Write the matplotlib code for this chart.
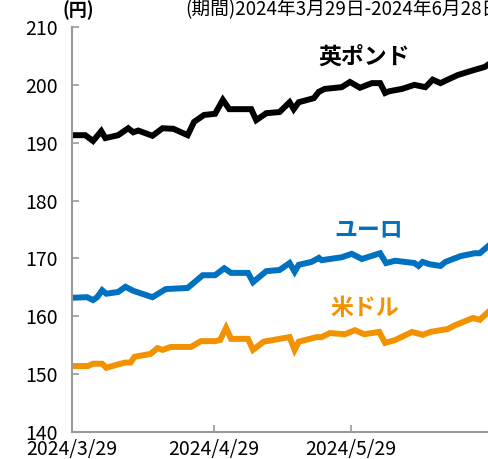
import pandas as pd
import matplotlib
matplotlib.use("Agg")
import matplotlib.pyplot as plt

plt.rcParams['font.family'] = ['Noto Sans CJK JP', 'DejaVu Sans']

# データ（2024/3/29 からの経過日数と円換算値）
start = pd.Timestamp("2024-03-29")
end = pd.Timestamp("2024-06-28")

gbp_days = [0, 2.9, 4.6, 6.4, 7.3, 10.1, 12.3, 13.4, 14.5, 17.6, 19.8, 22.2, 25.3, 26.7, 28.9,
            31.3, 33.0, 34.4, 39.2, 40.3, 42.5, 45.4, 47.6, 48.5, 49.6, 52.9, 54.0, 55.3, 59.0,
            60.8, 63.0, 65.6, 67.4, 68.5, 69.4, 72.2, 74.9, 77.3, 78.9, 80.6, 82.2, 84.4, 88.1,
            90.3, 91.6]
gbp = [191.3, 191.3, 190.3, 192.0, 190.8, 191.3, 192.5, 191.8, 192.1, 191.2, 192.5, 192.4,
       191.3, 193.6, 194.8, 195.0, 197.4, 195.8, 195.8, 193.9, 195.1, 195.3, 197.0, 195.8,
       197.0, 197.7, 198.8, 199.3, 199.6, 200.5, 199.5, 200.3, 200.3, 198.6, 198.9, 199.3,
       200.0, 199.6, 200.9, 200.3, 200.9, 201.7, 202.6, 203.1, 203.8]

eur_days = [0, 3.3, 4.6, 5.5, 6.6, 7.5, 10.1, 11.7, 13.4, 17.6, 20.5, 25.3, 28.6, 31.3, 33.3,
            34.8, 38.5, 39.6, 42.5, 45.4, 47.6, 48.7, 49.6, 52.4, 54.0, 54.6, 59.0, 61.2, 63.4,
            67.4, 68.7, 70.7, 74.9, 75.8, 76.7, 78.2, 80.6, 81.7, 85.0, 88.1, 89.2, 91.0, 91.6]
eur = [163.2, 163.3, 162.8, 163.3, 164.5, 163.9, 164.2, 165.1, 164.4, 163.3, 164.7, 164.9,
       167.1, 167.1, 168.3, 167.5, 167.5, 165.9, 167.8, 168.0, 169.2, 167.7, 168.9, 169.4,
       170.1, 169.7, 170.2, 170.8, 169.9, 170.9, 169.2, 169.6, 169.2, 168.7, 169.4, 169.0,
       168.7, 169.4, 170.4, 170.9, 170.9, 172.1, 172.5]

usd_days = [0, 3.5, 4.6, 6.6, 7.5, 10.6, 11.7, 12.8, 13.7, 17.2, 18.7, 19.8, 21.6, 26.0, 28.2,
            31.3, 32.4, 33.7, 34.8, 38.5, 39.6, 41.9, 45.4, 47.6, 48.7, 49.6, 52.0, 53.5, 54.6,
            56.4, 59.7, 61.9, 63.9, 67.2, 68.5, 70.7, 74.4, 76.7, 78.4, 82.2, 83.9, 85.5, 87.7,
            89.2, 91.0, 91.6]
usd = [151.4, 151.4, 151.8, 151.8, 151.1, 151.8, 152.0, 152.0, 153.0, 153.5, 154.5, 154.2,
       154.7, 154.7, 155.7, 155.7, 155.9, 158.0, 156.1, 156.1, 154.2, 155.6, 156.1, 156.4,
       154.2, 155.6, 156.1, 156.4, 156.4, 157.1, 156.9, 157.6, 156.9, 157.3, 155.4, 155.9,
       157.3, 156.8, 157.3, 157.8, 158.5, 159.0, 159.7, 159.4, 160.7, 161.1]

x_ticklabels = ["2024/3/29", "2024/4/29", "2024/5/29"]
y_ticks = [140, 150, 160, 170, 180, 190, 200, 210]


def to_dates(days):
    return start + pd.to_timedelta(days, unit="D")


fig = plt.figure(figsize=(4.88, 4.59), dpi=100)
ax = fig.add_axes([72 / 488, 27 / 459, 1 - 72 / 488, 405 / 459])

ax.plot(to_dates(gbp_days), gbp, color="black", lw=4.3, solid_joinstyle="miter")
ax.plot(to_dates(eur_days), eur, color="#0070C0", lw=4.3, solid_joinstyle="miter")
ax.plot(to_dates(usd_days), usd, color="#F39200", lw=4.3, solid_joinstyle="miter")

ax.set_xlim(start, end)
ax.set_ylim(140, 210)
ax.set_yticks(y_ticks)
ax.set_xticks(pd.to_datetime(x_ticklabels, format="%Y/%m/%d"))
ax.set_xticklabels(x_ticklabels)

for s in ["top", "right"]:
    ax.spines[s].set_visible(False)
for s in ["left", "bottom"]:
    ax.spines[s].set_color("#999999")
    ax.spines[s].set_linewidth(1.5)

ax.tick_params(axis="y", direction="in", length=5, width=1.2, color="#999999",
               labelsize=14, pad=10)
ax.tick_params(axis="x", direction="in", length=5, width=1.2, color="#999999",
               labelsize=14, pad=5)
# 140 のラベルを少し上へ
for lbl in ax.get_yticklabels():
    lbl.set_verticalalignment("center_baseline")

# 系列ラベル
ax.text(pd.Timestamp("2024-06-01"), 204.8, "英ポンド", fontsize=16.5, fontweight="bold",
        color="black", ha="center", va="center")
ax.text(pd.Timestamp("2024-06-02"), 174.9, "ユーロ", fontsize=16.5, fontweight="bold",
        color="#0070C0", ha="center", va="center")
ax.text(pd.Timestamp("2024-06-01"), 161.4, "米ドル", fontsize=16.5, fontweight="bold",
        color="#F39200", ha="center", va="center")

fig.text(62 / 488, 1 - 10 / 459, "(円)", fontsize=13, fontweight="bold", va="center")
fig.text(185 / 488, 1 - 10 / 459, "(期間)2024年3月29日-2024年6月28日", fontsize=13.5,
         va="center")

fig.savefig("out.png", dpi=100)
